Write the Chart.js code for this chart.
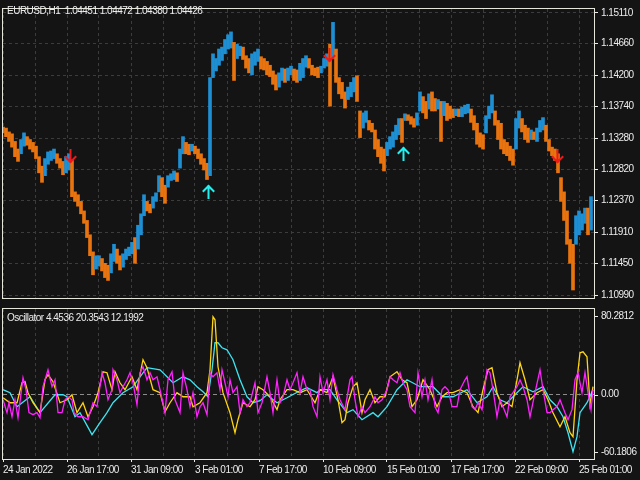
<!DOCTYPE html>
<html>
<head>
<meta charset="utf-8">
<script src="https://cdn.jsdelivr.net/npm/chart.js@4.4.1/dist/chart.umd.min.js"></script>
<style>
  html,body{margin:0;padding:0;background:#141414;}
  #wrap{position:relative;width:640px;height:480px;overflow:hidden;background:#141414;}
  .cv{position:absolute;left:0;}
  .lbl{position:absolute;color:#ececec;font:10px "Liberation Sans",Arial,sans-serif;letter-spacing:-0.5px;white-space:pre;line-height:12px;}
</style>
</head>
<body>
<div id="wrap">
  <canvas id="mainChart" class="cv" style="top:0" width="640" height="307"></canvas>
  <canvas id="oscChart" class="cv" style="top:307px" width="640" height="173"></canvas>
  <div class="lbl" style="left:7px;top:5px">EURUSD,H1  1.04451 1.04472 1.04380 1.04426</div>
  <div class="lbl" style="left:7px;top:312px">Oscillator 4.4536 20.3543 12.1992</div>
</div>
<script>
// ---------- DATA ----------
const PRICE_STEP = 3; // hours per sampled price bar
const priceHigh = [
1.13442,1.13428,1.13372,1.13344,1.13233,1.13122,1.13261,1.13358,1.13303,1.13261,
1.13219,1.13164,1.13011,1.12872,1.12983,1.13080,1.13094,1.13122,1.13053,1.12983,
1.12941,1.13011,1.13053,1.12955,1.12497,1.12455,1.12358,1.12219,1.12080,1.11871,
1.11621,1.11565,1.11565,1.11524,1.11454,1.11426,1.11593,1.11732,1.11662,1.11565,
1.11593,1.11662,1.11690,1.11760,1.11830,1.12010,1.12177,1.12455,1.12358,1.12316,
1.12427,1.12483,1.12733,1.12705,1.12594,1.12733,1.12761,1.12802,1.12775,1.13122,
1.13303,1.13219,1.13192,1.13192,1.13164,1.13122,1.13053,1.12983,1.12914,1.14165,
1.14512,1.14443,1.14582,1.14610,1.14721,1.14790,1.14832,1.14679,1.14651,1.14623,
1.14610,1.14484,1.14443,1.14512,1.14540,1.14582,1.14470,1.14443,1.14401,1.14345,
1.14262,1.14206,1.14234,1.14304,1.14290,1.14304,1.14331,1.14290,1.14276,1.14373,
1.14443,1.14484,1.14443,1.14345,1.14304,1.14317,1.14331,1.14443,1.14512,1.14651,
1.14971,1.14582,1.14165,1.14095,1.13956,1.14026,1.14095,1.14165,1.14192,1.13678,
1.13650,1.13678,1.13539,1.13498,1.13400,1.13261,1.13150,1.13122,1.13219,1.13303,
1.13372,1.13470,1.13567,1.13567,1.13636,1.13622,1.13595,1.13567,1.13650,1.13956,
1.13887,1.13817,1.13928,1.13956,1.13859,1.13845,1.13817,1.13817,1.13789,1.13748,
1.13706,1.13706,1.13706,1.13734,1.13762,1.13776,1.13706,1.13609,1.13498,1.13358,
1.13331,1.13609,1.13748,1.13914,1.13678,1.13539,1.13498,1.13261,1.13219,1.13164,
1.13122,1.13567,1.13678,1.13567,1.13470,1.13428,1.13400,1.13372,1.13428,1.13539,
1.13581,1.13470,1.13261,1.13150,1.13122,1.13053,1.12705,1.12497,1.12219,1.11802,
1.11732,1.12149,1.12219,1.12177,1.12260,1.12260,1.12427
];
const priceLow = [
1.13358,1.13303,1.13233,1.13150,1.13011,1.12942,1.13053,1.13164,1.13178,1.13122,
1.13080,1.12983,1.12775,1.12636,1.12733,1.12900,1.12955,1.12983,1.12914,1.12844,
1.12747,1.12775,1.12816,1.12427,1.12358,1.12288,1.12177,1.12038,1.11830,1.11565,
1.11287,1.11371,1.11413,1.11343,1.11246,1.11204,1.11315,1.11482,1.11454,1.11357,
1.11398,1.11510,1.11565,1.11593,1.11454,1.11662,1.11871,1.12149,1.12219,1.12191,
1.12260,1.12358,1.12497,1.12427,1.12330,1.12566,1.12663,1.12677,1.12649,1.12844,
1.13053,1.13053,1.13039,1.13094,1.13053,1.12983,1.12900,1.12816,1.12677,1.12733,
1.14165,1.14262,1.14345,1.14415,1.14512,1.14582,1.14596,1.14123,1.14443,1.14484,
1.14429,1.14304,1.14234,1.14206,1.14345,1.14401,1.14290,1.14276,1.14206,1.14179,
1.14067,1.13984,1.14026,1.14123,1.14095,1.14123,1.14206,1.14123,1.14095,1.14123,
1.14165,1.14317,1.14304,1.14206,1.14192,1.14165,1.14234,1.14304,1.14331,1.13748,
1.14443,1.14095,1.13928,1.13859,1.13720,1.13845,1.13887,1.13956,1.13817,1.13289,
1.13428,1.13511,1.13400,1.13372,1.13122,1.13011,1.12914,1.12802,1.13025,1.13122,
1.13150,1.13261,1.13331,1.13219,1.13539,1.13539,1.13484,1.13442,1.13470,1.13678,
1.13650,1.13567,1.13706,1.13678,1.13678,1.13706,1.13233,1.13609,1.13539,1.13567,
1.13581,1.13609,1.13595,1.13595,1.13636,1.13650,1.13511,1.13400,1.13192,1.13150,
1.13122,1.13358,1.13567,1.13650,1.13470,1.13261,1.13122,1.13053,1.13025,1.12955,
1.12886,1.13122,1.13428,1.13372,1.13261,1.13219,1.13261,1.13261,1.13233,1.13372,
1.13400,1.13233,1.13094,1.13025,1.12955,1.12775,1.12358,1.12080,1.11732,1.11454,
1.11065,1.11732,1.11871,1.11940,1.12038,1.11871,1.11940
];
const priceTicks = [1.10990,1.11450,1.11910,1.12370,1.12820,1.13280,1.13740,1.14200,1.14660,1.15110];
const timeGrid = [0,32,64,96,128,160,192,224,256,288,320,352,384,416,448,480,512,544,576];
const timeTickLabels = ['24 Jan 2022','26 Jan 17:00','31 Jan 09:00','3 Feb 01:00','7 Feb 17:00',
                        '10 Feb 09:00','15 Feb 01:00','17 Feb 17:00','22 Feb 09:00','25 Feb 01:00'];
const sellBars = [67,326,554];
const sellPrices = [1.13025,1.14498,1.13025];
const buyBars = [205,400];
const buyPrices = [1.12497,1.13053];

const cyanX = [0,7,14,27,37,52,60,64,72,77,89,97,104,110,120,130,137,144,157,164,170,180,187,194,200,205,209,212,215,219,224,230,237,244,250,257,264,274,284,297,304,314,317,327,334,344,350,359,370,375,384,394,404,417,430,440,450,464,474,484,490,497,504,514,520,530,540,547,554,560,565,570,574,577,584,590];
const cyanV = [4.7,1.9,-11.2,-1.9,-16.8,0,0,-1.9,-20.6,-16.8,-37.4,-26.2,-16.8,-7.5,1.9,7.5,16.8,25.3,23.4,16.8,11.2,16.8,14.0,7.5,2.8,-1.9,23.4,48.7,48.7,44.0,42.1,32.8,14.0,-1.9,-7.5,-5.6,0,-7.5,-2.8,3.7,6.6,1.9,4.7,4.7,-4.7,-16.8,-14.0,-23.4,-16.8,-20.6,-11.2,4.7,14.0,7.5,7.5,-1.9,-1.9,4.7,-7.5,-1.9,7.5,-4.7,-7.5,1.9,7.5,2.8,7.5,-4.7,-11.2,-20.6,-35.6,-53.4,-39.3,-16.8,-7.5,4.7];

const yellowX = [0,7,14,19,22,25,30,37,42,45,50,57,64,69,74,80,85,90,95,100,104,109,112,117,122,129,134,140,144,150,157,162,167,174,180,187,190,197,204,207,210,212,215,220,227,232,235,240,247,252,255,260,267,274,277,284,290,297,304,312,317,324,330,335,339,342,345,350,354,359,362,367,372,377,382,387,394,399,404,409,414,420,427,434,439,444,450,457,464,470,475,480,485,489,494,499,504,509,514,517,522,527,534,540,545,550,557,562,567,570,574,577,580,584,587,590];
const yellowV = [-2.8,-7.5,-7.5,11.2,12.2,1.9,-7.5,-16.8,14.0,18.7,12.2,-7.5,-4.7,0,-16.8,-7.5,-20.6,-11.2,1.9,21.5,20.6,4.7,21.5,11.2,4.7,16.8,4.7,32.8,25.3,4.7,1.9,-15.9,-7.5,1.9,-1.9,-1.9,-11.2,-7.5,1.9,23.4,73.0,70.2,26.2,1.9,-16.8,-35.6,-23.4,-7.5,-11.2,-4.7,7.5,4.7,-1.9,-14.0,-4.7,4.7,4.7,1.9,4.7,-7.5,4.7,1.9,16.8,-4.7,-26.2,-23.4,-7.5,7.5,11.2,-16.8,-4.7,4.7,-7.5,-1.9,-1.9,16.8,21.5,14.0,11.2,-11.2,-4.7,14.0,4.7,-11.2,-1.9,1.9,1.9,4.7,1.9,-11.2,-16.8,4.7,23.4,25.3,1.9,-11.2,-7.5,-11.2,14.0,30.0,14.0,-4.7,1.9,4.7,-4.7,-16.8,-30.0,-20.6,-35.6,-39.3,14.0,39.3,40.2,35.6,-9.4,7.5];

const magentaX = [0,4,6,9,12,15,20,23,26,30,34,37,40,45,49,52,55,59,62,65,69,71,75,80,85,90,94,99,102,105,109,110,114,117,120,124,127,130,134,137,140,144,147,150,154,157,162,165,169,172,177,180,184,187,190,194,197,200,204,207,210,214,217,219,222,225,227,230,234,237,240,244,247,252,255,259,264,267,270,274,277,280,284,287,290,294,297,300,304,307,310,314,317,320,324,327,330,334,337,342,347,349,352,355,359,362,367,372,375,379,384,387,390,394,397,400,404,407,412,415,419,422,425,429,432,435,439,442,445,449,454,457,462,464,469,472,475,479,484,487,490,494,497,500,504,507,510,514,517,520,524,527,532,537,540,544,547,550,554,557,562,565,569,572,575,579,582,585,588,590];
const magentaV = [-4.7,-16.8,-7.5,-20.6,-4.7,-21.5,15.9,4.7,-16.8,-18.7,-16.8,-21.5,7.5,23.4,7.5,14.0,-16.8,-16.8,-4.7,-1.9,-4.7,-16.8,-20.6,-20.6,-23.4,-7.5,-11.2,20.6,11.2,-4.7,4.7,23.4,14.0,1.9,7.5,14.0,20.6,11.2,-9.4,20.6,26.2,14.0,20.6,14.0,16.8,4.7,-16.8,14.0,21.5,-4.7,-16.8,20.6,4.7,-11.2,1.9,-20.6,-11.2,-7.5,-18.7,20.6,16.8,20.6,4.7,23.4,11.2,-1.9,14.0,1.9,7.5,-16.8,-4.7,-11.2,-7.5,11.2,-16.8,-7.5,16.8,1.9,-16.8,14.0,-7.5,-1.9,14.0,4.7,11.2,20.6,1.9,16.8,4.7,4.7,-11.2,-20.6,16.8,1.9,14.0,-4.7,18.7,4.7,-4.7,-14.0,14.0,16.8,-4.7,-20.6,-11.2,-16.8,-11.2,-1.9,-7.5,-4.7,4.7,16.8,14.0,11.2,20.6,11.2,4.7,-11.2,-16.8,20.6,-1.9,14.0,-4.7,14.0,-11.2,-16.8,4.7,7.5,4.7,-11.2,-11.2,4.7,14.0,16.8,-11.2,-14.0,-7.5,-14.0,23.4,20.6,4.7,-20.6,-4.7,-11.2,-20.6,-1.9,1.9,7.5,14.0,7.5,-4.7,-20.6,1.9,23.4,4.7,-16.8,-16.8,-14.0,-11.2,-4.7,-16.8,-23.4,-14.0,14.0,20.6,1.9,20.6,1.9,-14.0,4.7];

const oscAxisValues = [80.2812, 0, -60.1806];
const oscAxisLabels = ['80.2812', '0.00', '-60.1806'];

// ---------- STYLE ----------
const FONT = '"Liberation Sans",Arial,sans-serif';
const FSIZE = 10;
const TEXT = '#ececec';
const FRAME = '#e6e6dc';
const GRID = '#3c3c3c';
const ZERO = '#8c8c8c';
const UP = '#1f8fd3';
const DOWN = '#e8730f';
Chart.defaults.font.family = FONT;
Chart.defaults.font.size = FSIZE;
Chart.defaults.color = TEXT;
Chart.defaults.animation = false;

const spacingPlugin = {
  id: 'tightText',
  beforeDraw(chart) { if ('letterSpacing' in chart.ctx) chart.ctx.letterSpacing = '-0.5px'; }
};

const framePlugin = {
  id: 'frame',
  afterDraw(chart) {
    const a = chart.chartArea, ctx = chart.ctx;
    ctx.save();
    ctx.strokeStyle = FRAME; ctx.lineWidth = 1;
    ctx.strokeRect(a.left - 0.5, a.top - 0.5, a.right - a.left + 1, a.bottom - a.top + 1);
    ctx.restore();
  }
};

const arrowPlugin = {
  id: 'arrows',
  afterDatasetsDraw(chart) {
    const xs = chart.scales.x, ys = chart.scales.y, ctx = chart.ctx;
    ctx.save();
    ctx.lineWidth = 2; ctx.lineCap = 'square';
    const draw = (bars, prices, color, dir) => {
      ctx.strokeStyle = color;
      bars.forEach((b, i) => {
        const x = Math.round(xs.getPixelForValue(b)) + 0.5;
        const y = Math.round(ys.getPixelForValue(prices[i]));
        ctx.beginPath();
        ctx.moveTo(x, y - 6 * dir); ctx.lineTo(x, y + 6 * dir);
        ctx.moveTo(x - 5, y + 1 * dir); ctx.lineTo(x, y + 6 * dir); ctx.lineTo(x + 5, y + 1 * dir);
        ctx.stroke();
      });
    };
    draw(sellBars, sellPrices, '#f01818', 1);
    draw(buyBars, buyPrices, '#22f0f0', -1);
    ctx.restore();
  }
};

const oscAxisPlugin = {
  id: 'oscAxis',
  afterDraw(chart) {
    const ys = chart.scales.y, a = chart.chartArea, ctx = chart.ctx;
    ctx.save();
    ctx.font = FSIZE + 'px ' + FONT; ctx.fillStyle = TEXT;
    ctx.textAlign = 'left'; ctx.textBaseline = 'middle';
    oscAxisValues.forEach((v, i) => {
      let py = ys.getPixelForValue(v);
      py = Math.min(Math.max(py, a.top + 7), a.bottom - 7);
      ctx.fillText(oscAxisLabels[i], a.right + 7, py);
      ctx.fillRect(a.right + 1, Math.round(py), 3, 1);
    });
    ctx.restore();
  }
};

// ---------- MAIN PRICE CHART ----------
const barData = priceHigh.map((h, i) => ({ x: i * PRICE_STEP, y: [priceLow[i], h] }));
const barColors = priceHigh.map((h, i) => {
  if (i === 0) return DOWN;
  const mid = (h + priceLow[i]) / 2, prev = (priceHigh[i - 1] + priceLow[i - 1]) / 2;
  return mid >= prev ? UP : DOWN;
});

new Chart(document.getElementById('mainChart'), {
  type: 'bar',
  data: { datasets: [{ data: barData, backgroundColor: barColors, borderWidth: 0,
                       barThickness: PRICE_STEP, grouped: false }] },
  options: {
    responsive: false, devicePixelRatio: 1, animation: false,
    layout: { padding: { left: 3, top: 3, right: 0, bottom: 1 } },
    plugins: { legend: { display: false }, tooltip: { enabled: false } },
    scales: {
      x: {
        type: 'linear', min: 0, max: 591, offset: false,
        grid: { color: GRID, drawTicks: false, offset: false },
        border: { display: false, dash: [3, 3] },
        ticks: { display: false },
        afterBuildTicks: s => { s.ticks = timeGrid.map(v => ({ value: v })); },
        afterFit: s => { s.height = 0; s.paddingLeft = 0; s.paddingRight = 0; }
      },
      y: {
        position: 'right', min: 1.10948, max: 1.15166,
        grid: { color: GRID, drawTicks: true, tickLength: 4, tickColor: TEXT },
        border: { display: false, dash: [3, 3] },
        ticks: { padding: 3, color: TEXT, font: { family: FONT, size: FSIZE },
                 callback: v => Number(v).toFixed(5) },
        afterBuildTicks: s => { s.ticks = priceTicks.map(v => ({ value: v })); },
        afterFit: s => { s.width = 46; }
      }
    }
  },
  plugins: [spacingPlugin, arrowPlugin, framePlugin]
});

// ---------- OSCILLATOR CHART ----------
const toXY = (xs, vs) => xs.map((x, i) => ({ x: x, y: vs[i] }));
new Chart(document.getElementById('oscChart'), {
  type: 'line',
  data: { datasets: [
    { data: toXY(magentaX, magentaV), borderColor: '#ff22ff', borderWidth: 1.3, pointRadius: 0, tension: 0, order: 1 },
    { data: toXY(yellowX, yellowV), borderColor: '#ffd414', borderWidth: 1.3, pointRadius: 0, tension: 0, order: 2 },
    { data: toXY(cyanX, cyanV), borderColor: '#3ee4f2', borderWidth: 1.3, pointRadius: 0, tension: 0, order: 3 }
  ] },
  options: {
    responsive: false, devicePixelRatio: 1, animation: false,
    layout: { padding: { left: 3, top: 2, right: 0, bottom: 0 } },
    plugins: { legend: { display: false }, tooltip: { enabled: false } },
    scales: {
      x: {
        type: 'linear', min: 0, max: 591,
        grid: { color: GRID, drawTicks: true, tickLength: 3,
                tickColor: c => (timeGrid.indexOf(c.tick ? c.tick.value : -1) % 2 === 0 ? TEXT : 'rgba(0,0,0,0)') },
        border: { display: false, dash: [3, 3] },
        ticks: { align: 'start', autoSkip: false, maxRotation: 0, minRotation: 0, padding: 2,
                 color: TEXT, font: { family: FONT, size: FSIZE },
                 callback: v => { const k = timeGrid.indexOf(v); return k % 2 === 0 ? timeTickLabels[k / 2] : ''; } },
        afterBuildTicks: s => { s.ticks = timeGrid.map(v => ({ value: v })); },
        afterFit: s => { s.height = 21; s.paddingLeft = 0; s.paddingRight = 0; }
      },
      y: {
        position: 'right', min: -60.1806, max: 80.2812,
        grid: { color: c => (c.tick && c.tick.value === 0 ? ZERO : 'rgba(0,0,0,0)'), drawTicks: false },
        border: { display: false, dash: [4, 3] },
        ticks: { display: false },
        afterBuildTicks: s => { s.ticks = [{ value: 0 }]; },
        afterFit: s => { s.width = 46; }
      }
    }
  },
  plugins: [spacingPlugin, oscAxisPlugin, framePlugin]
});
</script>
</body>
</html>
